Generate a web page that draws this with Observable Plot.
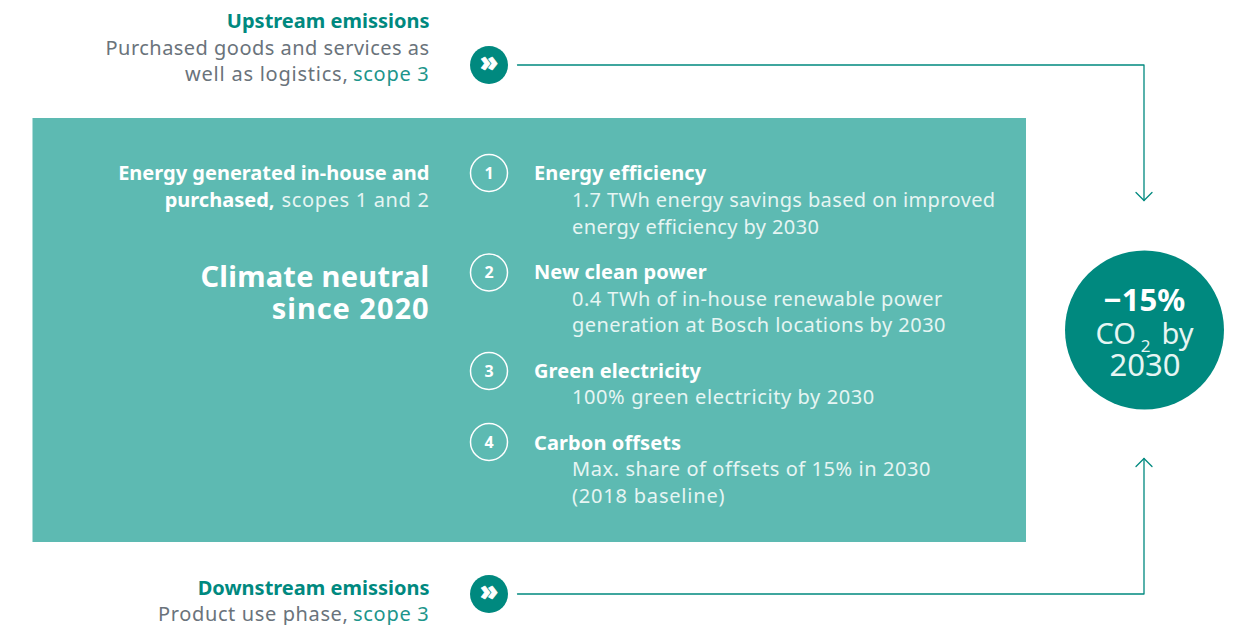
<!DOCTYPE html>
<html><head><meta charset="utf-8">
<script src="https://cdn.jsdelivr.net/npm/d3@7"></script>
<script src="https://cdn.jsdelivr.net/npm/@observablehq/plot@0.6"></script>
<style>html,body{margin:0;padding:0;background:#fff;overflow:hidden}svg{display:block}</style>
</head><body><div id="chart"></div>
<script>
const externalHeads = ["Upstream emissions", "Downstream emissions"];
const upstreamFull = ["Purchased goods and services as"];
const upstreamSeg = ["well as logistics,"];
const downstreamSeg = ["Product use phase,"];
const scopeLabel = "scope 3";
const leftBold = ["Energy generated in-house and", "purchased,"];
const leftLight = "scopes 1 and 2";
const neutral = ["Climate neutral", "since 2020"];
const leverNumbers = ["1", "2", "3", "4"];
const leverHeads = ["Energy efficiency", "New clean power", "Green electricity", "Carbon offsets"];
const leverBody = [
  "1.7 TWh energy savings based on improved", "energy efficiency by 2030",
  "0.4 TWh of in-house renewable power", "generation at Bosch locations by 2030",
  "100% green electricity by 2030",
  "Max. share of offsets of 15% in 2030", "(2018 baseline)"
];
const goal = {value: "\u221215%", co: "CO", sub: "2", by: "by", year: "2030"};

const TEAL = "#00897f", SCOPE = "#1d958b", BOX = "#5dbab2", GREY = "#6a737b", PALE = "#e6f5f3";
const FONT = "Noto Sans";

const zip = (labels, xs, ys) => labels.map((t, i) => ({t, x: xs[i] ?? xs[0], y: ys[i]}));
const txt = (rows, o) => Plot.text(rows, {x: "x", y: "y", text: "t", fontFamily: FONT, fontSize: 20, lineAnchor: "middle", ...o});

const link1 = [[517,64.5],[1143.5,64.5],[1143.5,200]];
const link2 = [[517,593.5],[1143.5,593.5],[1143.5,458]];
const head1 = [[1135.5,192],[1143.5,200],[1151.5,192]];
const head2 = [[1135.5,466],[1143.5,458],[1151.5,466]];
const lineOpts = {x: d => d[0], y: d => d[1], stroke: TEAL, strokeWidth: 1.3, curve: "linear"};

const chart = Plot.plot({
  width: 1237, height: 625, margin: 0,
  style: {background: "#fff", fontFamily: FONT},
  x: {domain: [0, 1237], range: [0, 1237], axis: null},
  y: {domain: [0, 625], range: [0, 625], axis: null},
  marks: [
    Plot.rect([{a: 32.5, b: 1026, c: 118, d: 542}], {x1: "a", x2: "b", y1: "c", y2: "d", fill: BOX}),
    Plot.line(link1, lineOpts), Plot.line(link2, lineOpts),
    Plot.line(head1, lineOpts), Plot.line(head2, lineOpts),
    Plot.dot([[488.5,64.5],[488.5,593.5]], {x: d => d[0], y: d => d[1], r: 19, fill: TEAL}),
    Plot.dot(zip(leverNumbers, [488.5], [172.5,272,370.5,441.5]), {x: "x", y: "y", r: 18.5, stroke: "#fff", strokeWidth: 1.5, fill: "none"}),
    Plot.dot([[1144,329.5]], {x: d => d[0], y: d => d[1], r: 79.5, fill: TEAL}),
    txt(zip(["\u00bb","\u00bb"], [488.5], [62.5,591.5]), {fill: "#fff", stroke: "#fff", strokeWidth: .7, fontWeight: 900, fontSize: 26, textAnchor: "middle"}),
    txt(zip(externalHeads, [429], [21,588]), {fill: TEAL, fontWeight: 700, textAnchor: "end"}),
    txt(zip(upstreamFull, [429], [48]), {fill: GREY, textAnchor: "end"}),
    txt(zip(upstreamSeg, [348], [74]), {fill: GREY, textAnchor: "end"}),
    txt(zip(downstreamSeg, [348], [614]), {fill: GREY, textAnchor: "end"}),
    txt(zip([scopeLabel, scopeLabel], [429], [74,614]), {fill: SCOPE, textAnchor: "end"}),
    txt(zip(leftBold, [429,274], [173,200]), {fill: "#fff", fontWeight: 700, textAnchor: "end"}),
    txt(zip([leftLight], [429], [200]), {fill: PALE, textAnchor: "end"}),
    txt(zip(neutral, [429], [277,309]), {fill: "#fff", fontWeight: 700, fontSize: 29, textAnchor: "end"}),
    txt(zip(leverNumbers, [488.5], [173,272,371,442]), {fill: "#fff", fontWeight: 700, fontSize: 16, textAnchor: "middle"}),
    txt(zip(leverHeads, [533.5], [173,272,371,443]), {fill: "#fff", fontWeight: 700, textAnchor: "start"}),
    txt(zip(leverBody, [571.5], [200,227,299,325,397,469,496]), {fill: PALE, textAnchor: "start"}),
    txt(zip([goal.value], [1144], [301]), {fill: "#fff", fontWeight: 700, fontSize: 31, textAnchor: "middle"}),
    txt(zip([goal.co], [1095], [334]), {fill: PALE, fontSize: 29, textAnchor: "start"}),
    txt(zip([goal.sub], [1145], [346]), {fill: PALE, fontSize: 17, textAnchor: "middle"}),
    txt(zip([goal.by], [1193], [334]), {fill: PALE, fontSize: 29, textAnchor: "end"}),
    txt(zip([goal.year], [1144.5], [366]), {fill: PALE, fontSize: 31, textAnchor: "middle"})
  ]
});
const bodyTracking = [.39, .4, .47, .47, .6, .58, .8];
const tracking = new Map(leverBody.map((t, i) => [t, bodyTracking[i]]));
tracking.set(upstreamFull[0], .47);
tracking.set(scopeLabel, .72);
tracking.set(upstreamSeg[0], .76);
tracking.set(downstreamSeg[0], .62);
tracking.set(leftLight, .66);
leverHeads.forEach(t => tracking.set(t, .1));
tracking.set(neutral[0], .27);
tracking.set(neutral[1], .95);
chart.querySelectorAll("text").forEach(n => {
  const s = tracking.get(n.textContent);
  if (s) n.style.letterSpacing = s + "px";
});
document.getElementById("chart").append(chart);
</script></body></html>
